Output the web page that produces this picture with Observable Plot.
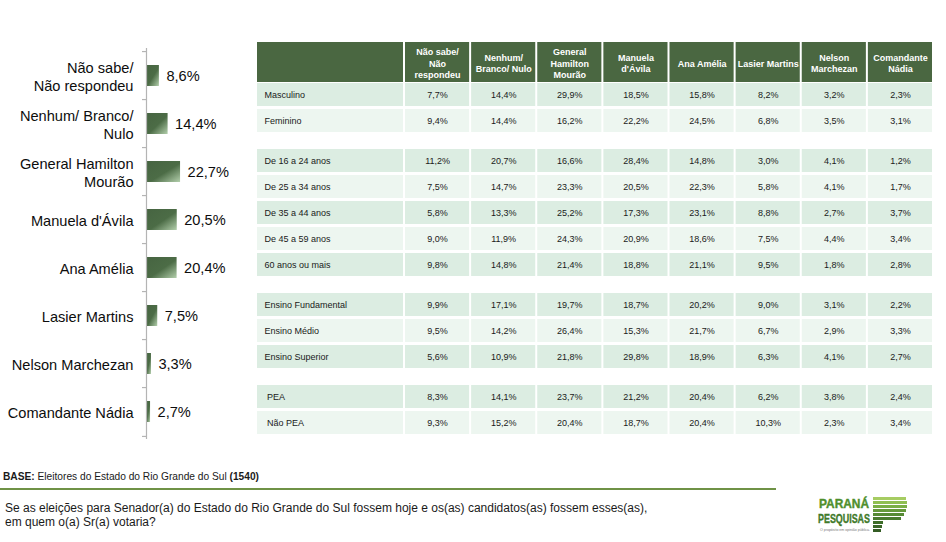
<!DOCTYPE html>
<html>
<head>
<meta charset="utf-8">
<script src="https://cdn.jsdelivr.net/npm/d3@7"></script>
<script src="https://cdn.jsdelivr.net/npm/@observablehq/plot@0.6"></script>
<style>
  html, body { margin: 0; padding: 0; background: #fff; }
  #root { position: relative; width: 946px; height: 542px; overflow: hidden; font-family: "Liberation Sans", Arial, sans-serif; color: #1a1a1a; }
  .abs { position: absolute; }
  .base { left: 3px; top: 471px; font-size: 10.2px; line-height: 12px; }
  .rule { left: 0; top: 488px; width: 776px; height: 2px; background: #6f9246; }
  .question { left: 5px; top: 501px; font-size: 12px; line-height: 14px; }
</style>
</head>
<body>
<div id="root">
  <div id="bars" class="abs" style="left:0;top:0"></div>
  <div id="table" class="abs" style="left:256px;top:42px"></div>
  <div class="abs base"><b>BASE:</b> Eleitores do Estado do Rio Grande do Sul <b>(1540)</b></div>
  <div class="abs rule"></div>
  <div class="abs question">Se as eleições para Senador(a) do Estado do Rio Grande do Sul fossem hoje e os(as) candidatos(as) fossem esses(as),<br>em quem o(a) Sr(a) votaria?</div>
  <svg class="abs" style="left:812px;top:494px" width="100" height="46">
    <text x="7" y="14" font-family="Liberation Sans, Arial" font-weight="bold" font-size="13" fill="#4f8f2c" stroke="#4f8f2c" stroke-width="0.4" textLength="50" lengthAdjust="spacingAndGlyphs">PARANÁ</text>
    <text x="6" y="29" font-family="Liberation Sans, Arial" font-weight="bold" font-size="13" fill="#3f7a2a" stroke="#3f7a2a" stroke-width="0.4" textLength="52" lengthAdjust="spacingAndGlyphs">PESQUISAS</text>
    <text x="8" y="37" font-family="Liberation Sans, Arial" font-size="4" fill="#777" textLength="50" lengthAdjust="spacingAndGlyphs">O propósito em opinião pública.</text>
    <rect x="61" y="3" width="33" height="3" fill="#a6cc62"/>
    <rect x="61" y="7" width="34" height="3" fill="#8fbf52"/>
    <rect x="61" y="11" width="34" height="3" fill="#79ae45"/>
    <rect x="61" y="15" width="33" height="3" fill="#65993b"/>
    <rect x="61" y="19" width="31" height="3" fill="#568a34"/>
    <rect x="61" y="23" width="28" height="3" fill="#4a7b2f"/>
    <rect x="61" y="27" width="10" height="3" fill="#3f6e2a"/>
    <rect x="61" y="31" width="9" height="3" fill="#3a6527"/>
    <rect x="61" y="35" width="8" height="3" fill="#345c24"/>
  </svg>
</div>
<script>
// ---------- DATA ----------
const candidates = [
  "Não sabe/\nNão respondeu",
  "Nenhum/ Branco/\nNulo",
  "General Hamilton\nMourão",
  "Manuela d'Ávila",
  "Ana Amélia",
  "Lasier Martins",
  "Nelson Marchezan",
  "Comandante Nádia"
];
const totals = [8.6, 14.4, 22.7, 20.5, 20.4, 7.5, 3.3, 2.7];

const tableHeaders = [
  "Não sabe/\nNão\nrespondeu",
  "Nenhum/\nBranco/ Nulo",
  "General\nHamilton\nMourão",
  "Manuela\nd'Ávila",
  "Ana Amélia",
  "Lasier Martins",
  "Nelson\nMarchezan",
  "Comandante\nNádia"
];

const sexoRows = ["Masculino", "Feminino"];
const sexoValues = [
  [7.7, 14.4, 29.9, 18.5, 15.8, 8.2, 3.2, 2.3],
  [9.4, 14.4, 16.2, 22.2, 24.5, 6.8, 3.5, 3.1]
];
const idadeRows = ["De 16 a 24 anos", "De 25 a 34 anos", "De 35 a 44 anos", "De 45 a 59 anos", "60 anos ou mais"];
const idadeValues = [
  [11.2, 20.7, 16.6, 28.4, 14.8, 3.0, 4.1, 1.2],
  [7.5, 14.7, 23.3, 20.5, 22.3, 5.8, 4.1, 1.7],
  [5.8, 13.3, 25.2, 17.3, 23.1, 8.8, 2.7, 3.7],
  [9.0, 11.9, 24.3, 20.9, 18.6, 7.5, 4.4, 3.4],
  [9.8, 14.8, 21.4, 18.8, 21.1, 9.5, 1.8, 2.8]
];
const escolaridadeRows = ["Ensino Fundamental", "Ensino Médio", "Ensino Superior"];
const escolaridadeValues = [
  [9.9, 17.1, 19.7, 18.7, 20.2, 9.0, 3.1, 2.2],
  [9.5, 14.2, 26.4, 15.3, 21.7, 6.7, 2.9, 3.3],
  [5.6, 10.9, 21.8, 29.8, 18.9, 6.3, 4.1, 2.7]
];
const peaRows = ["\u00a0PEA", "\u00a0Não PEA"];
const peaValues = [
  [8.3, 14.1, 23.7, 21.2, 20.4, 6.2, 3.8, 2.4],
  [9.3, 15.2, 20.4, 18.7, 20.4, 10.3, 2.3, 3.4]
];

// ---------- HELPERS ----------
const fmt = v => v.toFixed(1).replace(".", ",") + "%";
const FONT = "Liberation Sans, Arial, sans-serif";

// ---------- BAR CHART ----------
const barData = candidates.map((c, i) => ({c, v: totals[i]}));
const barTop = 48, barBottom = 439;
const step = (barBottom - barTop) / candidates.length;

const bars = Plot.plot({
  width: 250,
  height: 445,
  marginTop: barTop,
  marginBottom: 445 - barBottom,
  marginLeft: 146,
  marginRight: 0,
  style: {fontFamily: FONT, background: "transparent", overflow: "visible"},
  x: {domain: [0, 104 / 1.5], axis: null},
  y: {domain: candidates, paddingInner: 0.57, paddingOuter: 0.285, axis: null},
  marks: [
    Plot.barX(barData, {x: "v", y: "c", fill: "url(#barGrad)"}),
    Plot.ruleX([0], {stroke: "#b4b4b4", strokeWidth: 1.2}),
    Plot.ruleY(candidates, {y: d => d, x1: -4 / 1.5, x2: 0, dy: -step / 2, stroke: "#b4b4b4", strokeWidth: 1.2}),
    Plot.ruleY(candidates.slice(-1), {y: d => d, x1: -4 / 1.5, x2: 0, dy: step / 2, stroke: "#b4b4b4", strokeWidth: 1.2}),
    Plot.text(barData, {x: 0, y: "c", text: "c", dx: -13, textAnchor: "end", fontSize: 14.6, lineHeight: 1.22, fill: "#0d0d0d"}),
    Plot.text(barData, {x: "v", y: "c", text: d => fmt(d.v), dx: 7, textAnchor: "start", fontSize: 14.6, fill: "#0d0d0d"})
  ]
});
bars.insertAdjacentHTML("afterbegin",
  `<defs><linearGradient id="barGrad" x1="0" y1="0" x2="1" y2="1">
     <stop offset="0" stop-color="#466441"/>
     <stop offset="0.55" stop-color="#4c6c46"/>
     <stop offset="1" stop-color="#b3cfac"/>
   </linearGradient></defs>`);
document.getElementById("bars").appendChild(bars);

// ---------- TABLE ----------
const groups = [
  [sexoRows, sexoValues],
  [idadeRows, idadeValues],
  [escolaridadeRows, escolaridadeValues],
  [peaRows, peaValues]
];
const HEAD = 40, ROW = 26, GAP = 14, FIRST_GAP = 1;
const TW = 677, LABEL_W = 148, COL_W = (TW - LABEL_W) / tableHeaders.length;

const rows = [];
let idx = 0;
groups.forEach(([labels, values], g) => {
  labels.forEach((label, j) => {
    const top = HEAD + FIRST_GAP + idx * ROW + g * GAP;
    rows.push({label, values: values[j], top, bottom: top + ROW, shade: j % 2 === 0});
    idx++;
  });
});
const TH = rows[rows.length - 1].bottom - 3;

const colX1 = c => LABEL_W + c * COL_W;
const cells = [];
rows.forEach(r => {
  cells.push({x1: 0, x2: LABEL_W, y1: r.top, y2: r.bottom, shade: r.shade});
  r.values.forEach((v, c) => cells.push({x1: colX1(c), x2: colX1(c) + COL_W, y1: r.top, y2: r.bottom, shade: r.shade, v}));
});
const headCells = [{x1: 0, x2: LABEL_W, t: ""}].concat(tableHeaders.map((t, c) => ({x1: colX1(c), x2: colX1(c) + COL_W, t})));

const table = Plot.plot({
  width: TW,
  height: TH,
  margin: 0,
  style: {fontFamily: FONT, background: "transparent", overflow: "visible"},
  x: {domain: [0, TW], range: [0, TW], axis: null},
  y: {domain: [0, TH], range: [0, TH], axis: null},
  marks: [
    Plot.rect(headCells, {x1: "x1", x2: "x2", y1: 0, y2: HEAD, fill: "#4a6741", insetLeft: 1, insetRight: 1}),
    Plot.text(headCells, {x: d => (d.x1 + d.x2) / 2, y: HEAD / 2 + 0.5, text: "t", fill: "#fff", fontWeight: "bold", fontSize: 9, lineHeight: 1.25}),
    Plot.rect(cells, {x1: "x1", x2: "x2", y1: "y1", y2: "y2", fill: d => d.shade ? "#dcede2" : "#edf6f0", insetLeft: 1, insetRight: 1, insetBottom: 3}),
    Plot.text(rows, {x: 0, y: d => d.top + (ROW - 3) / 2, text: "label", dx: 8, textAnchor: "start", fontSize: 9, fill: "#1a1a1a"}),
    Plot.text(cells.filter(d => d.v !== undefined), {x: d => (d.x1 + d.x2) / 2, y: d => d.y1 + (ROW - 3) / 2, text: d => fmt(d.v), fontSize: 9, fill: "#1a1a1a"})
  ]
});
document.getElementById("table").appendChild(table);
</script>
</body>
</html>
